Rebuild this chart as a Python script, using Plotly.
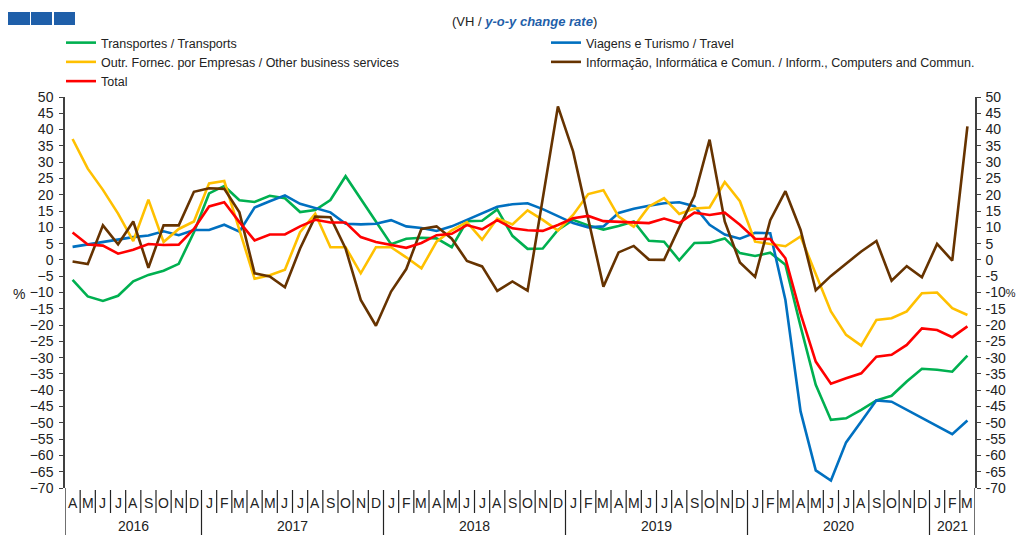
import plotly.graph_objects as go

# ---------------- data ----------------
month_letters = (["A", "M", "J", "J", "A", "S", "O", "N", "D"]
                 + ["J", "F", "M", "A", "M", "J", "J", "A", "S", "O", "N", "D"] * 4
                 + ["J", "F", "M"])
years = [2016] * 9 + [2017] * 12 + [2018] * 12 + [2019] * 12 + [2020] * 12 + [2021] * 3
year_labels = ["2016", "2017", "2018", "2019", "2020", "2021"]

transportes = [-6.1, -11.2, -12.6, -11.0, -6.6, -4.6, -3.3, -1.2, 8.5, 20.4,
               22.7, 18.3, 17.8, 19.7, 18.9, 14.7, 15.3, 18.4, 25.7, 18.6,
               11.8, 4.8, 6.5, 6.8, 6.6, 3.9, 11.9, 12.0, 15.5, 7.4,
               3.4, 3.5, 9.2, 12.3, 10.6, 9.3, 10.4, 11.8, 5.9, 5.6,
               -0.1, 5.2, 5.3, 6.6, 2.1, 1.2, 2.2, -1.5, -20.4, -38.3,
               -49.1, -48.6, -46.0, -43.1, -41.7, -37.3, -33.4, -33.7, -34.3, -29.4]

viagens = [4.0, 4.8, 5.6, 6.4, 7.0, 7.5, 8.8, 7.6, 9.2, 9.2,
           10.8, 8.7, 16.1, 18.0, 19.8, 17.2, 16.0, 14.6, 11.1, 10.9,
           11.1, 12.2, 10.3, 9.8, 8.9, 10.3, 12.3, 14.2, 16.3, 17.1,
           17.4, 15.6, 13.4, 11.3, 10.0, 10.3, 14.4, 15.7, 16.6, 17.4,
           17.7, 16.5, 10.8, 7.8, 6.5, 8.3, 8.2, -12.3, -46.5, -64.6,
           -67.7, -56.0, -49.6, -43.1, -43.5, -46.0, -48.6, -51.0, -53.5, -49.3]

outros = [37.1, 28.0, 21.5, 14.2, 5.8, 18.5, 5.5, 9.5, 11.8, 23.5,
          24.2, 9.5, -5.8, -4.7, -3.0, 8.5, 14.2, 3.9, 3.9, -4.1,
          3.9, 3.9, 0.8, -2.6, 5.6, 9.1, 11.6, 6.2, 12.7, 10.9,
          15.2, 12.3, 9.0, 13.8, 20.2, 21.4, 13.3, 10.2, 16.4, 19.0,
          14.1, 15.8, 16.1, 23.9, 18.0, 5.6, 4.8, 4.2, 7.2, -4.5,
          -15.8, -23.0, -26.3, -18.4, -17.9, -15.8, -10.2, -10.0, -14.8, -16.9]

informacao = [-0.5, -1.3, 10.6, 4.8, 11.8, -2.4, 10.6, 10.6, 20.9, 22.0,
              21.8, 14.6, -4.1, -5.1, -8.4, 3.5, 13.3, 13.1, 3.5, -12.3,
              -20.2, -9.7, -2.8, 9.5, 10.3, 6.5, -0.3, -2.0, -9.5, -6.6,
              -9.4, 19.0, 47.1, 33.3, 13.0, -8.2, 2.3, 4.3, 0.1, 0.0,
              10.0, 19.6, 36.9, 11.8, -0.8, -5.2, 12.2, 21.1, 9.2, -9.3,
              -4.9, -1.0, 2.6, 5.8, -6.4, -1.9, -5.3, 4.9, -0.2, 41.0]

total = [8.4, 4.7, 4.4, 1.9, 3.1, 4.9, 4.6, 4.7, 9.5, 16.4,
         17.7, 11.6, 6.0, 7.8, 7.8, 10.3, 12.3, 11.5, 11.5, 7.0,
         5.5, 4.5, 3.7, 5.2, 7.6, 8.0, 10.7, 9.4, 12.2, 9.7,
         9.1, 8.9, 10.7, 12.8, 13.5, 11.9, 11.7, 11.5, 11.3, 12.7,
         11.3, 14.5, 13.8, 14.5, 10.8, 6.5, 6.4, 0.5, -16.5, -31.2,
         -38.0, -36.3, -34.8, -29.7, -29.1, -26.1, -21.0, -21.5, -23.7, -20.4]

series_names = ["Transportes / Transports",
                "Viagens e Turismo / Travel",
                "Outr. Fornec. por Empresas / Other business services",
                "Informação, Informática e Comun. / Inform., Computers and Commun.",
                "Total"]
series_values = [transportes, viagens, outros, informacao, total]
series_colors = ["#00B050", "#0070C0", "#FFC000", "#663300", "#FF0000"]

y_ticks = list(range(-70, 55, 5))
unit_tick = -10  # the right-hand tick that carries the "%" unit
right_ticktext = [f"{v}<span style='font-size:11px'>%</span>" if v == unit_tick else str(v)
                  for v in y_ticks]

# ---------------- layout helpers ----------------
# the page body has an 8px margin, so the figure is drawn 8px right/down
OFF = 8
W, H = 1024 - OFF, 535 - OFF
L, T = 65 - OFF, 97 - OFF
PW, PH = 910, 391
R, B = W - L - PW, H - T - PH


def px(xp):  # reference-screen pixel x -> paper fraction
    return (xp - OFF - L) / PW


def py(yp):  # reference-screen pixel y -> paper fraction
    return (T + PH - (yp - OFF)) / PH


FONT = "Liberation Sans, Arial, sans-serif"
n = len(month_letters)
xs = list(range(n))

fig = go.Figure()
for k, (name, vals, col) in enumerate(zip(series_names, series_values, series_colors)):
    # the last series (Total) sits on the right-hand axis (identical scale), drawn on top
    fig.add_trace(go.Scatter(x=xs, y=vals, name=name, mode="lines",
                             yaxis="y2" if k == len(series_names) - 1 else "y",
                             line=dict(color=col, width=2.6)))

axis_col = "#404040"
fig.update_layout(
    width=W, height=H,
    margin=dict(l=L, r=R, t=T, b=B, autoexpand=False),
    paper_bgcolor="white", plot_bgcolor="white",
    font=dict(family=FONT, size=14, color="#222"),
    showlegend=True,
    legend=dict(orientation="h", x=px(61), y=py(28), xanchor="left", yanchor="top",
                entrywidth=440, entrywidthmode="pixels", itemwidth=30,
                font=dict(family=FONT, size=12.5, color="#222"),
                bgcolor="rgba(0,0,0,0)", tracegroupgap=0, traceorder="normal"),
    xaxis=dict(range=[-0.5, n - 0.5], showticklabels=False, showgrid=False,
               zeroline=False, showline=False, ticks=""),
    xaxis2=dict(overlaying="x", anchor="free", position=70 / 120,
                range=[-0.5, n - 0.5], tickmode="linear", tick0=0.5, dtick=1,
                ticks="outside", ticklen=3, tickwidth=1.2, tickcolor="#222",
                showline=True, linecolor="#222", linewidth=1.5,
                showticklabels=False, showgrid=False, zeroline=False),
    yaxis=dict(range=[-70, 50], tickmode="array", tickvals=y_ticks,
               ticks="outside", ticklen=4, tickwidth=1.2, tickcolor=axis_col,
               showline=True, linecolor=axis_col, linewidth=1.5,
               showgrid=False, zeroline=False, ticklabelstandoff=3,
               tickfont=dict(family=FONT, size=14, color="#222")),
    yaxis2=dict(overlaying="y", anchor="x", side="right", range=[-70, 50],
                tickmode="array", tickvals=y_ticks, ticktext=right_ticktext,
                ticks="outside", ticklen=4, tickwidth=1.2, tickcolor=axis_col,
                showline=True, linecolor=axis_col, linewidth=1.5,
                showgrid=False, zeroline=False, ticklabelstandoff=2,
                tickfont=dict(family=FONT, size=14, color="#222")),
)

shapes = []
annotations = []

# month labels and separators
for i, m in enumerate(month_letters):
    annotations.append(dict(x=i, y=py(503), xref="x", yref="paper", text=m,
                            showarrow=False, xanchor="center", yanchor="middle",
                            font=dict(family=FONT, size=14, color="#222")))
for k in range(1, n):
    long = years[k] != years[k - 1]
    shapes.append(dict(type="line", xref="x", yref="paper", x0=k - 0.5, x1=k - 0.5,
                       y0=py(490), y1=py(535) if long else py(513),
                       line=dict(color="#222", width=1.2)))
for xe in (-0.5, n - 0.5):
    shapes.append(dict(type="line", xref="x", yref="paper", x0=xe, x1=xe,
                       y0=0, y1=py(535), line=dict(color=axis_col, width=1.5)))

# year labels
for yl in year_labels:
    idx = [i for i, y in enumerate(years) if str(y) == yl]
    annotations.append(dict(x=sum(idx) / len(idx), y=py(526), xref="x", yref="paper",
                            text=yl, showarrow=False, xanchor="center", yanchor="middle",
                            font=dict(family=FONT, size=14, color="#222")))

# left % label
annotations.append(dict(x=px(19), y=py(294), xref="paper", yref="paper", text="%",
                        showarrow=False, xanchor="center", yanchor="middle",
                        font=dict(family=FONT, size=14, color="#222")))

# subtitle
annotations.append(dict(x=px(524), y=py(22), xref="paper", yref="paper",
                        text="(VH / <b><i><span style='color:#1F5FA9'>y-o-y change rate</span></i></b>)",
                        showarrow=False, xanchor="center", yanchor="middle",
                        font=dict(family=FONT, size=13, color="#222")))

# decorative blue squares
for x0, x1 in ((8, 30), (31, 52), (54, 75)):
    shapes.append(dict(type="rect", xref="paper", yref="paper",
                       x0=px(x0), x1=px(x1), y0=py(25), y1=py(12),
                       fillcolor="#1F5FA9", line=dict(width=0)))

fig.update_layout(shapes=shapes, annotations=annotations)

fig.write_html("out.html")
